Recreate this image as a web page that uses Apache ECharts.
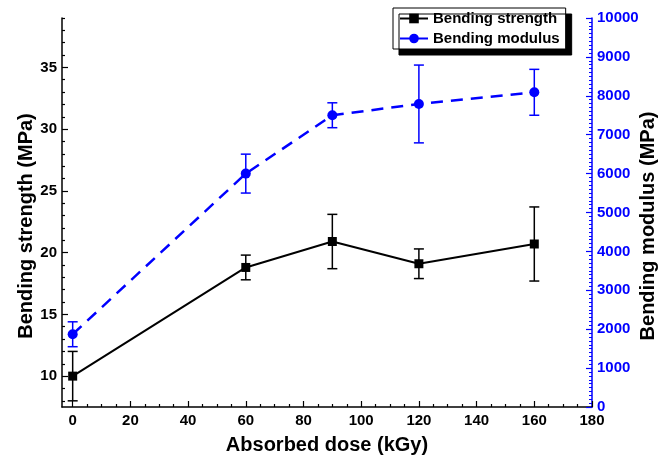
<!DOCTYPE html>
<html>
<head>
<meta charset="utf-8">
<script src="https://cdn.jsdelivr.net/npm/echarts@6/dist/echarts.min.js"></script>
<style>html,body{margin:0;padding:0;background:#fff;}#c{width:670px;height:460px;}</style>
</head>
<body>
<div id="c"></div>
<script>
// ---- data ----
const doses = [0, 60, 90, 120, 160];
const strength = [10.0, 18.8, 20.9, 19.1, 20.7];
const strengthErr = [2.0, 1.0, 2.2, 1.2, 3.0];
const modulus = [1870, 6000, 7500, 7790, 8090];
const modulusErr = [320, 500, 320, 1000, 590];
const xTickLabels = [0, 20, 40, 60, 80, 100, 120, 140, 160, 180];
const xMinorTicks = [5,10,15,25,30,35,45,50,55,65,70,75,85,90,95,105,110,115,125,130,135,145,150,155,165,170,175];
const leftTickLabels = [10, 15, 20, 25, 30, 35];
const leftMinorTicks = [8,9,11,12,13,14,16,17,18,19,21,22,23,24,26,27,28,29,31,32,33,34,36,37,38,39];

const FONT = '"Liberation Sans", Arial, sans-serif';
const BLUE = '#0000ff';

function errBar(color) {
  return function (params, api) {
    const x = api.value(0), lo = api.value(1), hi = api.value(2);
    const a = api.coord([x, lo]), b = api.coord([x, hi]);
    const w = 5;
    const st = { stroke: color, lineWidth: 1.5 };
    return { type: 'group', children: [
      { type: 'line', shape: { x1: a[0], y1: a[1], x2: b[0], y2: b[1] }, style: st },
      { type: 'line', shape: { x1: a[0] - w, y1: a[1], x2: a[0] + w, y2: a[1] }, style: st },
      { type: 'line', shape: { x1: b[0] - w, y1: b[1], x2: b[0] + w, y2: b[1] }, style: st }
    ]};
  };
}

const chart = echarts.init(document.getElementById('c'), null, { renderer: 'canvas' });
chart.setOption({
  animation: false,
  backgroundColor: '#fff',
  textStyle: { fontFamily: FONT },
  grid: { left: 62, right: 78, top: 18, bottom: 51, containLabel: false },
  legend: {
    data: ['Bending strength', 'Bending modulus'],
    orient: 'vertical',
    left: 393, top: 8,
    itemWidth: 28, itemHeight: 12, itemGap: 5,
    padding: [3, 6, 3, 6],
    backgroundColor: '#fff',
    borderColor: '#000', borderWidth: 1,
    shadowColor: '#000', shadowBlur: 0, shadowOffsetX: 6, shadowOffsetY: 6,
    lineStyle: { type: 'solid', width: 2 },
    textStyle: { fontFamily: FONT, fontWeight: 'bold', fontSize: 15, color: '#000' }
  },
  xAxis: [{
    type: 'value', min: -3.7, max: 180,
    name: 'Absorbed dose (kGy)', nameLocation: 'middle', nameGap: 28,
    nameTextStyle: { fontFamily: FONT, fontWeight: 'bold', fontSize: 20, color: '#000' },
    axisLine: { show: true, onZero: false, lineStyle: { color: '#000', width: 1.5 } },
    axisTick: { show: true, inside: true, length: 6, customValues: xTickLabels, lineStyle: { color: '#000', width: 1.2 } },
    axisLabel: { customValues: xTickLabels, margin: 6, fontFamily: FONT, fontWeight: 'bold', fontSize: 15, color: '#000' },
    splitLine: { show: false }
  }, {
    type: 'value', min: -3.7, max: 180, position: 'bottom', offset: 0,
    axisLine: { show: false, onZero: false },
    axisTick: { show: true, inside: true, length: 3, customValues: xMinorTicks, lineStyle: { color: '#000', width: 1.2 } },
    axisLabel: { show: false }, splitLine: { show: false }
  }],
  yAxis: [{
    type: 'value', min: 7.5, max: 39, position: 'left',
    axisLine: { show: true, onZero: false, lineStyle: { color: '#000', width: 1.5 } },
    axisTick: { show: true, inside: true, length: 6, customValues: leftTickLabels, lineStyle: { color: '#000', width: 1.2 } },
    axisLabel: { customValues: leftTickLabels, margin: 5, fontFamily: FONT, fontWeight: 'bold', fontSize: 15, color: '#000' },
    splitLine: { show: false }
  }, {
    type: 'value', min: 7.5, max: 39, position: 'left', offset: 0,
    axisLine: { show: false, onZero: false },
    axisTick: { show: true, inside: true, length: 3, customValues: leftMinorTicks, lineStyle: { color: '#000', width: 1.2 } },
    axisLabel: { show: false }, splitLine: { show: false }
  }, {
    type: 'value', min: 0, max: 10000, interval: 1000, position: 'right',
    axisLine: { show: true, onZero: false, lineStyle: { color: BLUE, width: 1.5 } },
    axisTick: { show: true, inside: true, length: 6, lineStyle: { color: BLUE, width: 1.2 } },
    minorTick: { show: true, splitNumber: 10, length: 3, lineStyle: { color: BLUE, width: 1 } },
    axisLabel: { margin: 5, fontFamily: FONT, fontWeight: 'bold', fontSize: 15, color: BLUE,
      formatter: function (v) { return String(v); } },
    splitLine: { show: false }, minorSplitLine: { show: false }
  }],
  graphic: [
    { type: 'text', x: 26, y: 226, rotation: Math.PI / 2,
      style: { text: 'Bending strength (MPa)', font: 'bold 20px ' + FONT, fill: '#000',
        align: 'center', verticalAlign: 'middle', textAlign: 'center', textVerticalAlign: 'middle' } },
    { type: 'text', x: 648, y: 226, rotation: Math.PI / 2,
      style: { text: 'Bending modulus (MPa)', font: 'bold 20px ' + FONT, fill: '#000',
        align: 'center', verticalAlign: 'middle', textAlign: 'center', textVerticalAlign: 'middle' } }
  ],
  series: [
    {
      name: 'strength error', type: 'custom', xAxisIndex: 0, yAxisIndex: 0, z: 2,
      renderItem: errBar('#000'),
      data: doses.map((d, i) => [d, strength[i] - strengthErr[i], strength[i] + strengthErr[i]])
    },
    {
      name: 'modulus error', type: 'custom', xAxisIndex: 0, yAxisIndex: 2, z: 2,
      renderItem: errBar(BLUE),
      data: doses.map((d, i) => [d, modulus[i] - modulusErr[i], modulus[i] + modulusErr[i]])
    },
    {
      name: 'Bending strength', type: 'line', xAxisIndex: 0, yAxisIndex: 0, z: 3,
      data: doses.map((d, i) => [d, strength[i]]),
      symbol: 'rect', symbolSize: 9,
      itemStyle: { color: '#000' },
      lineStyle: { color: '#000', width: 2 }
    },
    {
      name: 'Bending modulus', type: 'line', xAxisIndex: 0, yAxisIndex: 2, z: 3,
      data: doses.map((d, i) => [d, modulus[i]]),
      symbol: 'circle', symbolSize: 10,
      itemStyle: { color: BLUE },
      lineStyle: { color: BLUE, width: 2.5, type: [12, 8] }
    }
  ]
});
</script>
</body>
</html>
